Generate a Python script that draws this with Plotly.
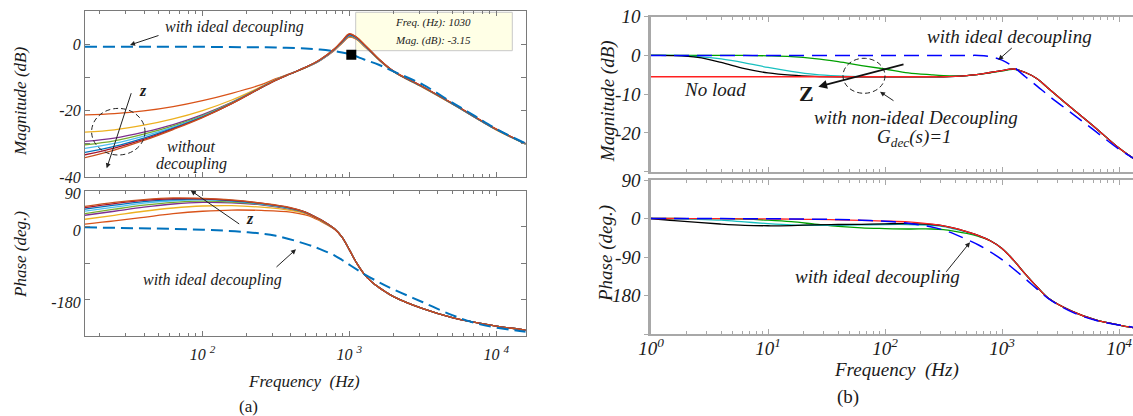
import plotly.graph_objects as go

W, H = 1133, 416

# ---------------- Panel (a) data ----------------
freq_a = [15.8, 25.1, 39.8, 63.1, 100, 158, 251, 316, 398, 501, 631, 794, 891,
          1000, 1122, 1259, 1413, 1585, 1995, 3162, 5012, 10000, 15849]

mag_a_1 = [-21.3, -20.9, -20.1, -18.8, -17.0, -14.8, -12.2, -10.4, -8.8, -7.1, -4.9, -1.8, 0.3, 2.1, 1.4, -0.6, -2.6, -4.7, -8.3, -13.0, -18.0, -25.8, -30.1]
mag_a_2 = [-26.5, -25.8, -24.4, -22.5, -20.0, -16.8, -12.8, -10.6, -8.9, -7.1, -4.9, -1.7, 0.4, 2.3, 1.5, -0.5, -2.5, -4.7, -8.3, -13.0, -18.0, -25.8, -30.1]
mag_a_3 = [-29.3, -28.3, -26.5, -24.2, -21.2, -17.5, -13.0, -10.7, -8.9, -7.1, -4.9, -1.6, 0.5, 2.4, 1.6, -0.4, -2.5, -4.6, -8.2, -12.9, -17.9, -25.7, -30.0]
mag_a_4 = [-30.3, -29.1, -27.1, -24.6, -21.5, -17.6, -13.0, -10.7, -8.9, -7.1, -4.8, -1.5, 0.6, 2.6, 1.7, -0.3, -2.4, -4.6, -8.2, -12.9, -17.9, -25.7, -30.0]
mag_a_5 = [-31.4, -29.9, -27.7, -25.0, -21.7, -17.7, -13.0, -10.7, -8.9, -7.0, -4.8, -1.5, 0.7, 2.7, 1.8, -0.3, -2.4, -4.6, -8.2, -12.9, -17.9, -25.7, -30.0]
mag_a_6 = [-32.6, -30.8, -28.3, -25.3, -21.9, -17.8, -13.1, -10.8, -8.9, -7.0, -4.7, -1.4, 0.8, 2.8, 1.9, -0.2, -2.3, -4.5, -8.2, -12.9, -17.9, -25.7, -30.0]
mag_a_7 = [-33.3, -31.3, -28.7, -25.5, -22.0, -17.9, -13.1, -10.8, -8.9, -7.0, -4.7, -1.4, 0.9, 3.0, 2.0, -0.1, -2.3, -4.5, -8.1, -12.8, -17.8, -25.6, -29.9]
mag_a_8 = [-34.2, -31.9, -29.0, -25.7, -22.1, -17.9, -13.1, -10.8, -8.9, -7.0, -4.6, -1.3, 1.0, 3.2, 2.1, 0.0, -2.2, -4.4, -8.1, -12.8, -17.8, -25.6, -29.9]

freq_a_ph = [15.8, 25.1, 39.8, 63.1, 100, 158, 251, 398, 501, 562, 631, 708, 794, 891,
             1000, 1122, 1259, 1413, 1585, 1778, 1995, 3162, 5012, 10000, 15849]

phase_a_1 = [7, 15, 24, 33, 39, 42, 41, 37, 30, 24, 15, 5, -6, -25, -57, -90, -117, -136, -150, -162, -173, -203, -225, -246, -256]
phase_a_2 = [19, 29, 39, 47, 52, 53, 49, 41, 33, 26, 17, 6, -5, -25, -57, -90, -117, -136, -150, -162, -173, -203, -225, -246, -256]
phase_a_3 = [29, 39, 49, 57, 61, 60, 55, 44, 35, 27, 18, 7, -5, -25, -57, -90, -117, -136, -150, -162, -173, -203, -225, -246, -256]
phase_a_4 = [33, 44, 54, 61, 64, 62, 56, 45, 36, 28, 18, 7, -5, -25, -57, -90, -117, -136, -150, -162, -173, -203, -225, -246, -256]
phase_a_5 = [39, 49, 59, 65, 67, 64, 57, 46, 36, 28, 19, 8, -5, -25, -57, -90, -117, -136, -150, -162, -173, -203, -225, -246, -256]
phase_a_6 = [44, 54, 63, 68, 69, 65, 58, 47, 37, 28, 19, 8, -5, -25, -57, -90, -117, -136, -150, -162, -173, -203, -225, -246, -256]
phase_a_7 = [48, 58, 66, 70, 70, 66, 59, 47, 37, 28, 19, 8, -5, -25, -57, -90, -117, -136, -150, -162, -173, -203, -225, -246, -256]
phase_a_8 = [51, 61, 68, 72, 71, 67, 59, 48, 37, 28, 19, 8, -5, -25, -57, -90, -117, -136, -150, -162, -173, -203, -225, -246, -256]

colors_a = ["#D95319", "#EDB120", "#7E2F8E", "#77AC30", "#4DBEEE", "#0072BD", "#A2142F", "#C8501E"]

freq_a_ideal = [15.8, 100, 200, 316, 501, 631, 794, 891, 1030, 1259, 1585, 1995, 3162, 5012, 7079, 10000, 15849]
mag_a_ideal = [-0.8, -0.8, -0.9, -1.0, -1.3, -1.6, -2.1, -2.5, -3.15, -4.6, -6.2, -8.2, -12.2, -17.6, -21.5, -25.5, -29.9]
phase_a_ideal = [-1, -7, -13, -22, -42, -55, -71, -82, -97, -117, -137, -155, -187, -219, -238, -250, -260]

datatip_freq = [1030]
datatip_mag = [-3.15]

# ---------------- Panel (b) data ----------------
freq_b = [1, 1.58, 2.51, 3.98, 6.31, 10, 15.8, 25.1, 39.8, 63.1, 100, 158, 251, 316,
          398, 501, 631, 794, 1000, 1259, 1585, 1995, 2512, 3981, 6310, 10000, 13183]

mag_b_green = [0, 0, 0, 0, 0, -0.1, -0.3, -0.8, -1.6, -2.6, -3.5, -4.5, -5.0, -5.2, -5.3, -5.2, -4.9, -4.5, -4.0, -3.6, -4.4, -6.0, -8.6, -13.7, -18.7, -23.9, -26.5]
mag_b_cyan = [0, 0, -0.3, -0.9, -1.9, -3.1, -4.1, -4.9, -5.3, -5.5, -5.5, -5.5, -5.5, -5.5, -5.4, -5.2, -4.9, -4.4, -3.9, -3.5, -4.4, -6.0, -8.6, -13.7, -18.7, -23.9, -26.5]
mag_b_black = [0, -0.05, -0.5, -1.8, -3.4, -4.5, -5.1, -5.4, -5.5, -5.5, -5.5, -5.5, -5.5, -5.5, -5.4, -5.2, -4.9, -4.4, -3.9, -3.5, -4.4, -6.0, -8.6, -13.7, -18.7, -23.9, -26.5]
mag_b_noload = [-5.5, -5.5, -5.5, -5.5, -5.5, -5.5, -5.5, -5.5, -5.5, -5.5, -5.5, -5.5, -5.5, -5.5, -5.4, -5.2, -4.9, -4.4, -3.9, -3.5, -4.4, -6.0, -8.6, -13.7, -18.7, -23.9, -26.5]
mag_b_ideal = [0, 0, 0, 0, 0, 0, 0, 0, 0, 0, 0, 0, 0, 0, 0, 0, 0, -0.3, -1.2, -3.0, -5.5, -7.9, -10.4, -15.0, -19.6, -24.2, -26.5]

phase_b_green = [0, 0, -0.2, -0.5, -1.5, -4, -7.5, -13, -18.5, -22, -23.5, -24.5, -24.5, -26, -30, -35, -42, -52, -70, -98, -130, -160, -187, -217, -237, -249, -255]
phase_b_cyan = [0, -1, -2, -4, -8, -12, -15, -16, -16, -15, -14, -14, -16, -19, -25, -32, -40, -52, -70, -98, -130, -160, -187, -217, -237, -249, -255]
phase_b_black = [0, -5, -9, -13, -16, -17, -16.5, -15, -14, -13.5, -12.5, -12, -14, -17, -23, -31, -40, -52, -70, -98, -130, -160, -187, -217, -237, -249, -255]
phase_b_noload = [0, 0, -0.3, -0.5, -0.8, -1, -1.5, -2.2, -3.2, -4.5, -6, -8, -13, -17, -23, -31, -40, -52, -70, -98, -130, -160, -187, -217, -237, -249, -255]
phase_b_ideal = [0, 0, -0.1, -0.2, -0.4, -0.6, -1, -1.6, -2.5, -4, -6.5, -11, -20, -27, -37, -49, -62, -78, -96, -118, -141, -165, -188, -219, -238, -249, -254]

# tick labels
xt_a_vals = [100, 1000, 10000]
xt_a_text = ["10 <sup>2</sup>", "10 <sup>3</sup>", "10 <sup>4</sup>"]
xt_b_vals = [1, 10, 100, 1000, 10000]
xt_b_text = ["10<sup>0</sup>", "10<sup>1</sup>", "10<sup>2</sup>", "10<sup>3</sup>", "10<sup>4</sup>"]
mag_a_tickvals = [-40, -30, -20, -10, 0, 10]
mag_a_ticktext = ["-40", "", "-20", "", "0", ""]
phase_a_tickvals = [-270, -180, -90, 0, 90]
phase_a_ticktext = ["", "-180", "", "0", "90"]
mag_b_tickvals = [-30, -20, -10, 0, 10]
mag_b_ticktext = ["", "-20", "-10", "0", "10"]
phase_b_tickvals = [-270, -180, -90, 0, 90]
phase_b_ticktext = ["", "-180", "-90", "0", "90"]

minor_a = [20, 30, 40, 50, 60, 70, 80, 90, 200, 300, 400, 500, 600, 700, 800, 900,
           2000, 3000, 4000, 5000, 6000, 7000, 8000, 9000]
minor_b = [2, 3, 4, 5, 6, 7, 8, 9] + minor_a

# ---------------- helpers (pixel -> paper) ----------------
def px(x):
    return x / W

def py(y):
    return 1 - y / H

SERIF = "Liberation Serif"
TXT = "#1a1a1a"

fig = go.Figure()

mags_a = [mag_a_1, mag_a_2, mag_a_3, mag_a_4, mag_a_5, mag_a_6, mag_a_7, mag_a_8]
phs_a = [phase_a_1, phase_a_2, phase_a_3, phase_a_4, phase_a_5, phase_a_6, phase_a_7, phase_a_8]
for m, c in zip(mags_a, colors_a):
    fig.add_trace(go.Scatter(x=freq_a, y=m, mode="lines", line=dict(color=c, width=1.3, shape="spline"),
                             xaxis="x", yaxis="y", showlegend=False, hoverinfo="skip"))
fig.add_trace(go.Scatter(x=freq_a_ideal, y=mag_a_ideal, mode="lines",
                         line=dict(color="#0072BD", width=2, dash="12px,6px", shape="spline"),
                         xaxis="x", yaxis="y", showlegend=False, hoverinfo="skip"))
fig.add_trace(go.Scatter(x=datatip_freq, y=datatip_mag, mode="markers",
                         marker=dict(symbol="square", size=10, color="black"),
                         xaxis="x", yaxis="y", showlegend=False, hoverinfo="skip"))
for p, c in zip(phs_a, colors_a):
    fig.add_trace(go.Scatter(x=freq_a_ph, y=p, mode="lines", line=dict(color=c, width=1.3, shape="spline"),
                             xaxis="x2", yaxis="y2", showlegend=False, hoverinfo="skip"))
fig.add_trace(go.Scatter(x=freq_a_ideal, y=phase_a_ideal, mode="lines",
                         line=dict(color="#0072BD", width=2, dash="12px,6px", shape="spline"),
                         xaxis="x2", yaxis="y2", showlegend=False, hoverinfo="skip"))

b_series = [(mag_b_green, phase_b_green, "#00A000"),
            (mag_b_cyan, phase_b_cyan, "#19C0C0"),
            (mag_b_black, phase_b_black, "#000000"),
            (mag_b_noload, phase_b_noload, "#FF2020")]
for m, p, c in b_series:
    fig.add_trace(go.Scatter(x=freq_b, y=m, mode="lines", line=dict(color=c, width=1.3, shape="spline"),
                             xaxis="x3", yaxis="y3", showlegend=False, hoverinfo="skip"))
    fig.add_trace(go.Scatter(x=freq_b, y=p, mode="lines", line=dict(color=c, width=1.3, shape="spline"),
                             xaxis="x4", yaxis="y4", showlegend=False, hoverinfo="skip"))
fig.add_trace(go.Scatter(x=freq_b, y=mag_b_ideal, mode="lines",
                         line=dict(color="#0000FF", width=1.5, dash="15px,8px", shape="spline"),
                         xaxis="x3", yaxis="y3", showlegend=False, hoverinfo="skip"))
fig.add_trace(go.Scatter(x=freq_b, y=phase_b_ideal, mode="lines",
                         line=dict(color="#0000FF", width=1.5, dash="15px,8px", shape="spline"),
                         xaxis="x4", yaxis="y4", showlegend=False, hoverinfo="skip"))

# ---------------- axes ----------------
GRAY_A = "#7a7a7a"
GRAY_B = "#a8a8a8"
tickfont_a = dict(family=SERIF, size=16, color=TXT, style="italic")
tickfont_b = dict(family=SERIF, size=19, color=TXT, style="italic")

dom_ax = [px(85), px(525.7)]
dom_bx = [px(651), 1.0]

def xaxis_a(anchor, labels):
    return dict(type="log", range=[1.2, 4.2], domain=dom_ax, anchor=anchor, automargin=False,
                showline=True, linecolor=GRAY_A, linewidth=1.3, mirror="ticks",
                ticks="inside", ticklen=5, tickcolor=GRAY_A, tickmode="array",
                tickvals=xt_a_vals, ticktext=xt_a_text, showticklabels=labels,
                tickfont=tickfont_a, ticklabelstandoff=4,
                minor=dict(tickmode="array", tickvals=minor_a, ticks="inside", ticklen=3,
                           tickcolor=GRAY_A, showgrid=False),
                showgrid=False, zeroline=False)

def xaxis_b(anchor, labels):
    return dict(type="log", range=[0, (1133 - 651) / 117], domain=dom_bx, anchor=anchor, automargin=False,
                showline=True, linecolor=GRAY_B, linewidth=2, mirror="ticks",
                ticks="inside", ticklen=5, tickcolor=GRAY_B, tickmode="array",
                tickvals=xt_b_vals, ticktext=xt_b_text, showticklabels=labels,
                tickfont=tickfont_b, ticklabelstandoff=-4,
                minor=dict(tickmode="array", tickvals=minor_b, ticks="inside", ticklen=3,
                           tickcolor=GRAY_B, showgrid=False),
                showgrid=False, zeroline=False)

fig.update_layout(
    width=W, height=H, margin=dict(l=0, r=0, t=0, b=0, autoexpand=False),
    paper_bgcolor="white", plot_bgcolor="white",
    xaxis=xaxis_a("y", False),
    xaxis2=xaxis_a("y2", True),
    xaxis3=xaxis_b("y3", False),
    xaxis4=xaxis_b("y4", True),
    yaxis=dict(range=[-40, 10], domain=[py(177), py(11)], anchor="x", automargin=False,
               showline=True, linecolor=GRAY_A, linewidth=1.3, mirror="ticks",
               ticks="inside", ticklen=5, tickcolor=GRAY_A, tickmode="array",
               tickvals=mag_a_tickvals, ticktext=mag_a_ticktext, tickfont=tickfont_a,
               showgrid=False, zeroline=False),
    yaxis2=dict(range=[-270, 90], domain=[py(335.7), py(190.7)], anchor="x2", automargin=False,
                showline=True, linecolor=GRAY_A, linewidth=1.3, mirror="ticks",
                ticks="inside", ticklen=5, tickcolor=GRAY_A, tickmode="array",
                tickvals=phase_a_tickvals, ticktext=phase_a_ticktext, tickfont=tickfont_a,
                ticklabelshift=3, showgrid=False, zeroline=False),
    yaxis3=dict(range=[-30, 10], domain=[py(171.7), py(16.7)], anchor="x3", automargin=False,
                showline=True, linecolor=GRAY_B, linewidth=2.5, mirror=False,
                ticks="outside", ticklen=4, tickcolor=GRAY_B, tickmode="array",
                tickvals=mag_b_tickvals, ticktext=mag_b_ticktext, tickfont=tickfont_b,
                showgrid=False, zeroline=False),
    yaxis4=dict(range=[-270, 90], domain=[py(334), py(180)], anchor="x4", automargin=False,
                showline=True, linecolor=GRAY_B, linewidth=2.5, mirror=False,
                ticks="outside", ticklen=4, tickcolor=GRAY_B, tickmode="array",
                tickvals=phase_b_tickvals, ticktext=phase_b_ticktext, tickfont=tickfont_b,
                showgrid=False, zeroline=False),
)

# ---------------- annotations ----------------
ann = []

def text(cx, cy, s, size, italic=True, bold=False, angle=0):
    st = s
    if bold:
        st = "<b>" + st + "</b>"
    if italic:
        st = "<i>" + st + "</i>"
    ann.append(dict(x=px(cx), y=py(cy), xref="paper", yref="paper", text=st, showarrow=False,
                    xanchor="center", yanchor="middle", textangle=angle,
                    font=dict(family=SERIF, size=size, color=TXT)))

def arrow(hx, hy, tx, ty, width=1.0, head=2, size=1.0, color="#222222"):
    ann.append(dict(x=px(hx), y=py(hy), xref="paper", yref="paper", text="",
                    showarrow=True, ax=tx - hx, ay=ty - hy, axref="pixel", ayref="pixel",
                    arrowhead=head, arrowsize=size, arrowwidth=width, arrowcolor=color,
                    standoff=0, startstandoff=0))

# panel (a) magnitude
text(234, 27, "with ideal decoupling", 16)
arrow(130, 45, 160, 35)
text(143, 90, "z", 16, bold=True)
arrow(106.7, 168.3, 131.7, 91.7)
text(191.7, 146.7, "without", 16)
text(191.7, 164, "decoupling", 16)
text(433.3, 22.3, "Freq. (Hz): 1030", 11)
text(433.3, 40.3, "Mag. (dB): -3.15", 11)
# panel (a) phase
arrow(190.7, 190.5, 240.7, 225)
text(250, 218.3, "z", 16, bold=True)
text(212, 280, "with ideal decoupling", 16)
arrow(296, 249.3, 275, 268.3)
text(304, 381.7, "Frequency  (Hz)", 17)
text(248, 406, "(a)", 17, italic=False)
text(20, 102, "Magnitude (dB)", 17, angle=-90)
text(20, 255, "Phase (deg.)", 17, angle=-90)

# panel (b) magnitude
text(1009.5, 36.7, "with ideal decoupling", 19)
arrow(998.3, 60, 1013.3, 46.7)
text(714.5, 89.3, "No load", 19)
text(806, 94, "Z", 22, italic=False, bold=True)
arrow(818.3, 86.7, 905, 64, width=1.6, size=1.1, color="#111111")
arrow(880, 91.7, 895, 101.7)
text(915.5, 117.3, "with non-ideal Decoupling", 19)
text(914.5, 138.3, "G<sub>dec</sub>(s)=1", 19)
# panel (b) phase
text(877, 276.7, "with ideal decoupling", 19)
arrow(970, 242.3, 945, 273.3)
text(896, 370, "Frequency  (Hz)", 19)
text(848, 397, "(b)", 19, italic=False)
text(607.5, 101.7, "Magnitude (dB)", 19, angle=-90)
text(606, 254, "Phase (deg.)", 19, angle=-90)

fig.update_layout(annotations=ann)

# ---------------- shapes ----------------
def ellipse(cx, cy, rx, ry):
    return dict(type="circle", xref="paper", yref="paper",
                x0=px(cx - rx), x1=px(cx + rx), y0=py(cy + ry), y1=py(cy - ry),
                line=dict(color="#222222", width=1, dash="5px,3px"), layer="above")

shapes = [
    ellipse(118.3, 131.7, 26.7, 23.3),
    ellipse(864, 75.8, 21, 17.5),
    dict(type="rect", xref="paper", yref="paper", x0=px(355.7), x1=px(512.3), y0=py(50.7), y1=py(12.3),
         fillcolor="#FFFFE6", line=dict(color="#c8c8c8", width=1), layer="below"),
]
fig.update_layout(shapes=shapes)

fig.write_html("out.html", config={"displayModeBar": False},
               post_script="document.body.style.margin='0px';document.body.style.padding='0px';")
